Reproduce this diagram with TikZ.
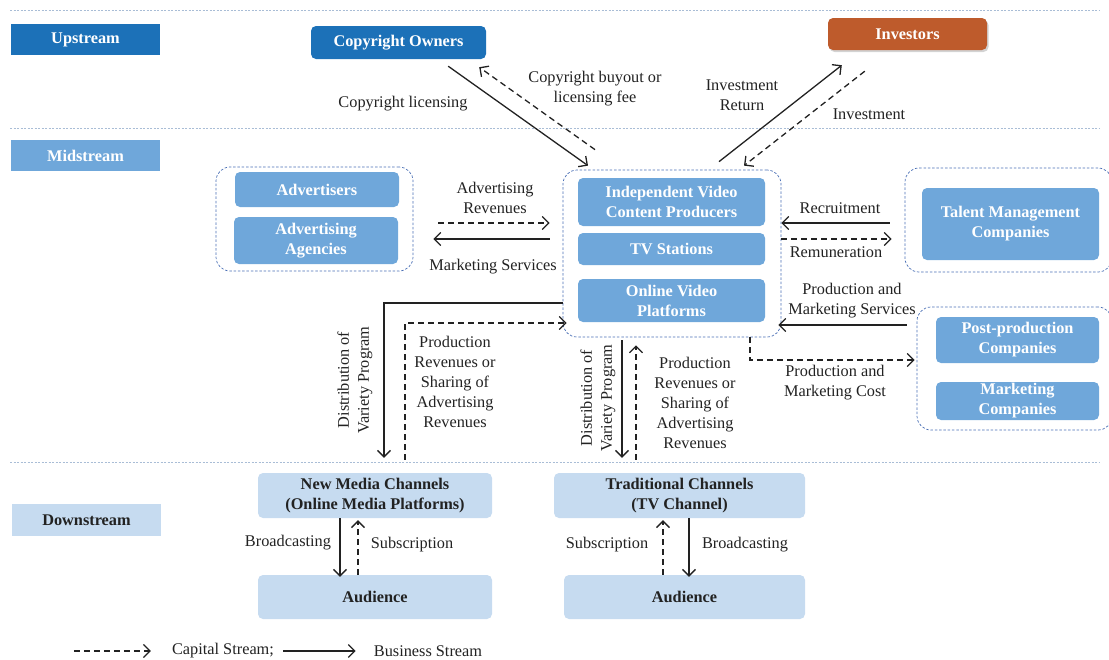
\documentclass[tikz,border=0pt]{standalone}
\usepackage{fontspec}
\setmainfont{Liberation Serif}
\usetikzlibrary{arrows.meta,shadows,calc}
\definecolor{dkblue}{HTML}{1C71B8}
\definecolor{mdblue}{HTML}{6FA7DA}
\definecolor{ltblue}{HTML}{C6DBF0}
\definecolor{orng}{HTML}{BE5B2C}
\definecolor{sepc}{HTML}{A9BDD6}
\definecolor{grpc}{HTML}{4A6FB5}
\definecolor{ink}{HTML}{222222}
\tikzset{
  txt/.style={font=\fontsize{16.3}{20}\selectfont, align=center, inner sep=0pt, text=ink},
  boxb/.style={font=\fontsize{16.3}{20}\selectfont\bfseries, align=center, inner sep=0pt, rounded corners=5pt},
  dkbox/.style={boxb, fill=dkblue, text=white},
  mdbox/.style={boxb, fill=mdblue, text=white},
  ltbox/.style={boxb, fill=ltblue, text=ink},
  orbox/.style={boxb, fill=orng, text=white, drop shadow={opacity=0.35, shadow xshift=1.5pt, shadow yshift=-2pt}},
  grp/.style={draw=grpc, line width=0.7pt, dash pattern=on 2.5pt off 1.8pt, rounded corners=14pt, inner sep=0pt},
  sepline/.style={draw=sepc, line width=0.9pt, dash pattern=on 2pt off 1.5pt},
  biz/.style={draw=ink, line width=1.3pt, -{Straight Barb[length=6.5pt,width=13pt,line width=1.3pt]}},
  capstream/.style={biz, dash pattern=on 6pt off 4pt},
}
\begin{document}
\begin{tikzpicture}[x=1pt,y=-1pt]
\useasboundingbox (0,0) rectangle (1109,659);
% separators
\draw[sepline] (10,10) -- (1100,10);
\draw[sepline] (10,128) -- (1100,128);
\draw[sepline] (10,462) -- (1100,462);
% stage labels
\node[dkbox, rounded corners=0pt, minimum width=149pt, minimum height=31pt] (up) at (85.5,39.5) {Upstream};
\node[mdbox, rounded corners=0pt, minimum width=149pt, minimum height=31pt] (mid) at (85.5,155.5) {Midstream};
\node[ltbox, rounded corners=0pt, minimum width=149pt, minimum height=32pt] (down) at (86.5,520) {Downstream};
% upstream
\node[dkbox, minimum width=175pt, minimum height=33pt] (co) at (398.5,42.5) {Copyright Owners};
\node[orbox, minimum width=159pt, minimum height=32pt] (inv) at (907.5,34) {Investors};
% groups
\node[grp, minimum width=197pt, minimum height=104pt] (grpL) at (314.5,219) {};
\node[grp, minimum width=218pt, minimum height=167pt] (grpC) at (672,253.5) {};
\node[grp, minimum width=207pt, minimum height=104pt] (grpT) at (1008.5,220) {};
\node[grp, minimum width=195pt, minimum height=123pt] (grpP) at (1014.5,368.5) {};
% midstream boxes
\node[mdbox, minimum width=164pt, minimum height=35pt] (adv) at (317,189.5) {Advertisers};
\node[mdbox, minimum width=164pt, minimum height=47pt] (aga) at (316,240.5) {Advertising\\Agencies};
\node[mdbox, minimum width=187pt, minimum height=48pt] (ivc) at (671.5,202) {Independent Video\\Content Producers};
\node[mdbox, minimum width=187pt, minimum height=32pt] (tvs) at (671.5,249) {TV Stations};
\node[mdbox, minimum width=187pt, minimum height=43pt] (ovp) at (671.5,300.5) {Online Video\\Platforms};
\node[mdbox, minimum width=177pt, minimum height=72pt] (tmc) at (1010.5,224) {Talent Management\\Companies};
\node[mdbox, minimum width=163pt, minimum height=46pt] (ppc) at (1017.5,340) {Post-production\\Companies};
\node[mdbox, minimum width=163pt, minimum height=38pt] (mkc) at (1017.5,401) {Marketing\\Companies};
% downstream boxes
\node[ltbox, minimum width=234pt, minimum height=45pt] (nmc) at (375,495.5) {New Media Channels\\(Online Media Platforms)};
\node[ltbox, minimum width=234pt, minimum height=44pt] (aud1) at (375,597) {Audience};
\node[ltbox, minimum width=251pt, minimum height=45pt] (trc) at (679.5,495.5) {Traditional Channels\\(TV Channel)};
\node[ltbox, minimum width=241pt, minimum height=44pt] (aud2) at (684.5,597) {Audience};
% upstream arrows
\draw[biz] ([xshift=-38pt,yshift=-7pt]co.south east) -- ([xshift=-84pt,yshift=4pt]grpC.north);
\draw[capstream] ([xshift=-77pt,yshift=20pt]grpC.north) -- ([xshift=-7pt,yshift=-8pt]co.south east);
\draw[biz] ([xshift=47pt,yshift=8pt]grpC.north) -- ([xshift=14pt,yshift=-15pt]inv.south west);
\draw[capstream] ([xshift=37pt,yshift=-21pt]inv.south west) -- ([xshift=72pt,yshift=4pt]grpC.north);
\node[txt] (l1) at (403,104) {Copyright licensing};
\node[txt] (l2) at (595,89) {Copyright buyout or\\licensing fee};
\node[txt] (l3) at (742,95) {Investment\\Return};
\node[txt] (l4) at (869,114) {Investment};
% advertisers
\draw[capstream] ([xshift=25pt,yshift=-4pt]grpL.east) -- ([xshift=-13pt,yshift=30.5pt]grpC.west);
\draw[biz] ([xshift=-13pt,yshift=14.5pt]grpC.west) -- ([xshift=20pt,yshift=-20pt]grpL.east);
\node[txt] (l5) at (495,198) {Advertising\\Revenues};
\node[txt] (l6) at (493,267) {Marketing Services};
% talent
\draw[biz] ([xshift=-15pt,yshift=-3pt]grpT.west) -- ([yshift=30.5pt]grpC.east);
\draw[capstream] ([yshift=14.5pt]grpC.east) -- ([xshift=-13pt,yshift=-19pt]grpT.west);
\node[txt] (l7) at (840,208) {Recruitment};
\node[txt] (l8) at (836,252) {Remuneration};
% post-production
\draw[biz] ([xshift=-10pt,yshift=43.5pt]grpP.west) -- ([xshift=-3pt,yshift=-71.5pt]grpC.east);
\draw[capstream] ([xshift=78pt]grpC.south) |- ([xshift=-2pt,yshift=8.5pt]grpP.west);
\node[txt] (l9) at (852,301) {Production and\\Marketing Services};
\node[txt] (l10) at (835,383) {Production and\\Marketing Cost};
% to new media
\draw[biz] ([yshift=-49.5pt]grpC.west) -| ([xshift=9pt,yshift=15pt]nmc.north);
\draw[capstream] ([xshift=30pt,yshift=13pt]nmc.north) |- ([xshift=4pt,yshift=-69.5pt]grpC.west);
\node[txt, rotate=90] (l11) at (355,380) {Distribution of\\Variety Program};
\node[txt] (l12) at (455,382) {Production\\Revenues or\\Sharing of\\Advertising\\Revenues};
% to traditional
\draw[biz] ([xshift=-50pt,yshift=-3pt]grpC.south) -- ([xshift=-57.5pt,yshift=15pt]trc.north);
\draw[capstream] ([xshift=-43.5pt,yshift=13pt]trc.north) -- ([xshift=-36pt,yshift=-8pt]grpC.south);
\node[txt, rotate=90] (l13) at (598,398) {Distribution of\\Variety Program};
\node[txt] (l14) at (695,403) {Production\\Revenues or\\Sharing of\\Advertising\\Revenues};
% downstream arrows
\draw[biz] ([xshift=-35pt]nmc.south) -- ([xshift=-35pt,yshift=-2pt]aud1.north);
\draw[capstream] ([xshift=-17pt]aud1.north) -- ([xshift=-17pt,yshift=-2pt]nmc.south);
\node[txt] (l15) at (288,543) {Broadcasting};
\node[txt] (l16) at (412,545) {Subscription};
\draw[capstream] ([xshift=-21.5pt]aud2.north) -- ([xshift=-16.5pt,yshift=-2pt]trc.south);
\draw[biz] ([xshift=9.5pt]trc.south) -- ([xshift=4.5pt,yshift=-2pt]aud2.north);
\node[txt] (l17) at (607,545) {Subscription};
\node[txt] (l18) at (745,545) {Broadcasting};
% legend
\node[txt] (lg1) at (223,651) {Capital Stream;};
\node[txt] (lg2) at (428,651) {Business Stream};
\draw[capstream] ([xshift=-98pt]lg1.west) -- ([xshift=-21pt]lg1.west);
\draw[biz] ([xshift=9pt]lg1.east) -- ([xshift=-18pt]lg2.west);
\end{tikzpicture}
\end{document}
